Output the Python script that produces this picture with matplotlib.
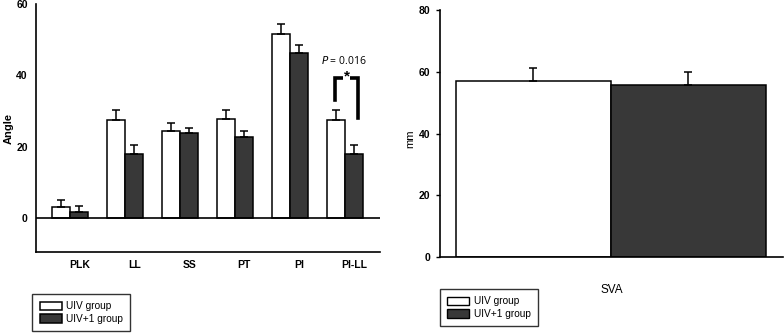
import matplotlib.pyplot as plt
import numpy as np

plt.rcParams['font.family'] = ['Liberation Sans', 'DejaVu Sans']

categories = ['PLK', 'LL', 'SS', 'PT', 'PI', 'PI-LL']
uiv_mean = [3.1, 27.5, 24.4, 27.8, 51.6, 27.5]
uiv_sd = [2.0, 2.9, 2.4, 2.6, 2.7, 2.9]
uiv1_mean = [1.6, 18.1, 23.8, 22.8, 46.3, 18.1]
uiv1_sd = [1.7, 2.4, 1.5, 1.6, 2.3, 2.4]

sva_labels = ['UIV group', 'UIV+1 group']
sva_mean = [57.0, 55.8]
sva_sd = [4.1, 4.0]

white = 'white'
dark = '#383838'

fig = plt.figure(figsize=(7.84, 3.33), dpi=100)

# left panel: angles
ax1 = fig.add_axes([0.0459, 0.243, 0.4388, 0.745])
x = np.arange(len(categories))
w = 0.333
ax1.bar(x - w / 2, uiv_mean, w, color=white, edgecolor='black', linewidth=1.1,
        yerr=[np.zeros(6), uiv_sd], error_kw=dict(ecolor='black', elinewidth=1.1, capsize=3, capthick=1.1),
        label='UIV group')
ax1.bar(x + w / 2, uiv1_mean, w, color=dark, edgecolor='black', linewidth=1.1,
        yerr=[np.zeros(6), uiv1_sd], error_kw=dict(ecolor='black', elinewidth=1.1, capsize=3, capthick=1.1),
        label='UIV+1 group')
ax1.axhline(0, color='black', lw=1.2)
ax1.set_xlim(-0.62, 5.64)
ax1.set_ylim(-9.5, 60)
ax1.set_yticks([0, 20, 40, 60])
ax1.set_xticks(x + 0.17)
ax1.set_xticklabels(categories, fontsize=7.5, fontweight='bold')
ax1.tick_params(axis='both', length=0, labelsize=7.5, pad=6)
for t in ax1.get_yticklabels():
    t.set_fontweight('bold')
ax1.set_ylabel('Angle', fontsize=8, fontweight='bold')
ax1.yaxis.set_label_coords(-0.066, 0.5)
for s in ['top', 'right']:
    ax1.spines[s].set_visible(False)
for s in ['left', 'bottom']:
    ax1.spines[s].set_linewidth(1.2)

# significance bracket
ax1.plot([4.82, 4.82, 5.24, 5.24], [33, 39.3, 39.3, 28], color='black', lw=2.6, solid_joinstyle='miter')
ax1.text(5.03, 39.6, '*', ha='center', va='center', fontsize=11, fontweight='bold',
         bbox=dict(facecolor='white', edgecolor='none', pad=0.2))
ax1.text(4.98, 44, r'$\it{P}$ = 0.016', ha='center', va='center', fontsize=7.5,
         family=['Open Sans', 'DejaVu Sans'])

leg1 = ax1.legend(loc='upper left', bbox_to_anchor=(-0.025, -0.15), fontsize=7.3, frameon=True,
                  fancybox=False, edgecolor='black', handlelength=2.2, handleheight=0.9,
                  borderpad=0.7, labelspacing=0.25, handletextpad=0.45)
leg1.get_frame().set_linewidth(1.0)

# right panel: SVA
ax2 = fig.add_axes([0.561, 0.228, 0.4377, 0.742])
ax2.bar([0, 1], sva_mean, 1.0, color=[white, dark], edgecolor='black', linewidth=1.1,
        yerr=[[0, 0], sva_sd], error_kw=dict(ecolor='black', elinewidth=1.1, capsize=3, capthick=1.1))
ax2.set_xlim(-0.603, 1.61)
ax2.set_ylim(0, 80)
ax2.set_yticks([0, 20, 40, 60, 80])
ax2.set_xticks([])
ax2.tick_params(axis='y', length=3, width=1, labelsize=7.5, pad=4)
for t in ax2.get_yticklabels():
    t.set_fontweight('bold')
ax2.set_ylabel('mm', fontsize=8)
ax2.yaxis.set_label_coords(-0.072, 0.48)
ax2.set_xlabel('SVA', fontsize=8.5)
ax2.xaxis.set_label_coords(0.5, -0.11)
for s in ['top', 'right']:
    ax2.spines[s].set_visible(False)
for s in ['left', 'bottom']:
    ax2.spines[s].set_linewidth(1.2)

h = [plt.Rectangle((0, 0), 1, 1, facecolor=white, edgecolor='black'),
     plt.Rectangle((0, 0), 1, 1, facecolor=dark, edgecolor='black')]
leg2 = ax2.legend(h, sva_labels, loc='upper left', bbox_to_anchor=(-0.015, -0.11), fontsize=7.3,
                  frameon=True, fancybox=False, edgecolor='black', handlelength=2.2, handleheight=0.9,
                  borderpad=0.7, labelspacing=0.25, handletextpad=0.45)
leg2.get_frame().set_linewidth(1.0)

fig.savefig('out.png', dpi=100)
